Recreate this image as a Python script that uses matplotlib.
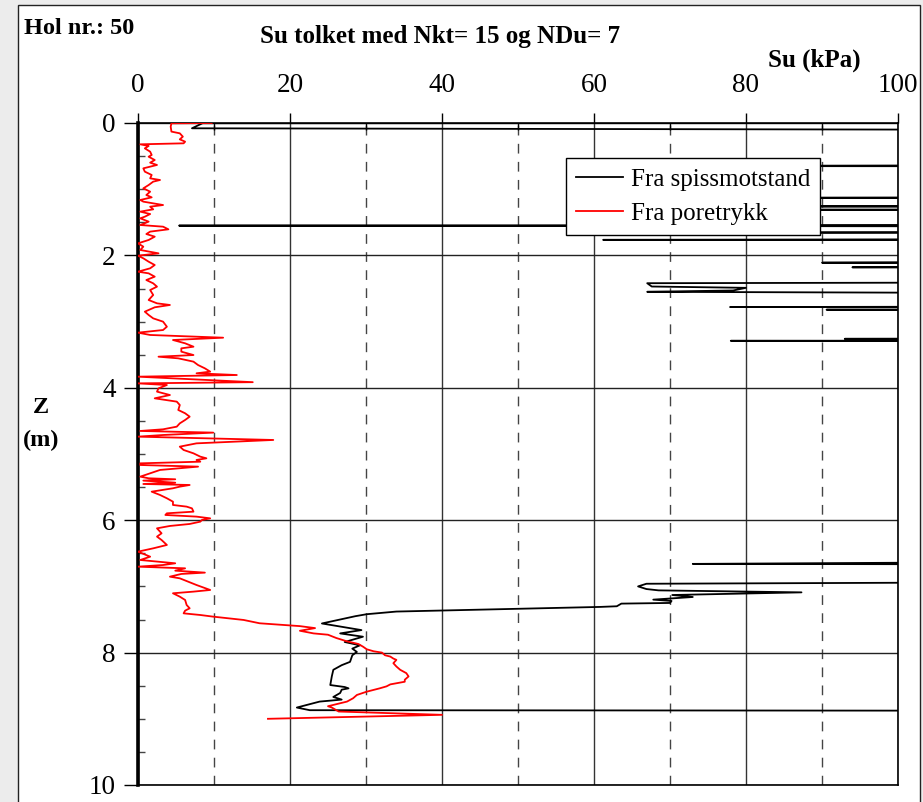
import matplotlib
matplotlib.use("Agg")
import matplotlib.pyplot as plt
from matplotlib.patches import Rectangle

plt.rcParams["font.family"] = ["Liberation Serif", "DejaVu Serif"]

OFF = 200.0  # strength beyond the 100 kPa axis limit

# Su from cone resistance (Nkt = 15): depth (m), Su (kPa)
depth_tip = [0.0, 0.003, 0.08, 0.12,
             0.62, 0.65, 0.66,
             1.11, 1.13, 1.14, 1.25, 1.26, 1.27, 1.30, 1.31, 1.32,
             1.53, 1.55, 1.57, 1.63, 1.655, 1.665, 1.74, 1.765, 1.775,
             2.07, 2.11, 2.115, 2.15, 2.18, 2.19,
             2.39, 2.42, 2.47, 2.49, 2.53, 2.55, 2.60,
             2.76, 2.78, 2.79, 2.82, 2.86,
             3.23, 3.26, 3.28, 3.29, 3.305,
             6.58, 6.66, 6.68,
             6.90, 6.96, 7.00, 7.04, 7.06, 7.09, 7.13, 7.16, 7.20, 7.22,
             7.25, 7.26, 7.30, 7.31, 7.38, 7.42, 7.45, 7.56, 7.66, 7.71,
             7.76, 7.84, 7.89, 7.94, 7.99, 8.04, 8.14, 8.19, 8.26, 8.36,
             8.49, 8.52, 8.54, 8.56, 8.61, 8.67, 8.71, 8.74, 8.83, 8.87,
             8.885, 9.0]
su_tip = [OFF, 8.5, 7.1, OFF,
          OFF, 65, OFF,
          OFF, 70, OFF, OFF, 75, OFF, OFF, 78, OFF,
          OFF, 5.4, OFF, OFF, 82.5, OFF, OFF, 61.2, OFF,
          OFF, 90, OFF, OFF, 94, OFF,
          OFF, 67, 67.6, 80, 78.3, 67, OFF,
          OFF, 77.9, OFF, 90.6, OFF,
          OFF, 93, OFF, 78, OFF,
          OFF, 73, OFF,
          OFF, 66.9, 65.8, 66.9, 68.5, 87.3, 70.3, 73, 67.8, 70.2,
          70, 63.6, 63, 60.8, 34, 30.1, 28.6, 24.2, 29.4, 26.6,
          29.6, 27.2, 29.2, 28.2, 28.8, 28.2, 27.9, 26.8, 25.7, 25.5,
          25.3, 27.2, 27.7, 26.8, 26.6, 25.7, 26.8, 23.9, 20.9, 22.6,
          OFF, OFF]

# Su from pore pressure (NDu = 7): depth (m), Su (kPa)
depth_pore = [0.0, 0.005, 0.055, 0.13, 0.156, 0.206, 0.247, 0.282, 0.307, 0.322,
              0.347, 0.383, 0.433, 0.483, 0.509, 0.559, 0.599, 0.634, 0.685, 0.735,
              0.785, 0.836, 0.861, 0.886, 0.937, 0.987, 1.037, 1.088, 1.123, 1.163,
              1.188, 1.239, 1.264, 1.304, 1.339, 1.375, 1.415, 1.440, 1.490, 1.541,
              1.566, 1.606, 1.641, 1.677, 1.717, 1.767, 1.818, 1.868, 1.918, 1.969,
              2.004, 2.044, 2.095, 2.145, 2.195, 2.246, 2.271, 2.321, 2.372, 2.422,
              2.472, 2.523, 2.598, 2.674, 2.724, 2.749, 2.784, 2.850, 2.900, 2.951,
              3.001, 3.077, 3.127, 3.167, 3.202, 3.243, 3.278, 3.328, 3.379, 3.404,
              3.454, 3.505, 3.530, 3.555, 3.605, 3.656, 3.706, 3.756, 3.781, 3.807,
              3.832, 3.915, 3.933, 3.958, 4.008, 4.058, 4.109, 4.159, 4.209, 4.260,
              4.335, 4.385, 4.436, 4.486, 4.537, 4.587, 4.627, 4.652, 4.677, 4.713,
              4.738, 4.788, 4.839, 4.889, 4.939, 4.990, 5.040, 5.065, 5.090, 5.116,
              5.141, 5.166, 5.191, 5.241, 5.292, 5.342, 5.367, 5.382, 5.402, 5.433,
              5.453, 5.468, 5.493, 5.518, 5.569, 5.619, 5.669, 5.720, 5.770, 5.795,
              5.821, 5.871, 5.896, 5.921, 5.946, 5.972, 5.997, 6.022, 6.057, 6.087,
              6.123, 6.173, 6.198, 6.248, 6.299, 6.374, 6.425, 6.475, 6.551, 6.601,
              6.651, 6.677, 6.702, 6.727, 6.762, 6.792, 6.812, 6.853, 6.878, 6.928,
              6.979, 7.054, 7.079, 7.104, 7.155, 7.205, 7.281, 7.331, 7.366, 7.407,
              7.432, 7.457, 7.507, 7.557, 7.60, 7.63, 7.67, 7.71, 7.73, 7.78,
              7.83, 7.87, 7.91, 7.95, 7.98, 8.00, 8.04, 8.06, 8.09, 8.11,
              8.16, 8.21, 8.26, 8.31, 8.36, 8.41, 8.44, 8.48, 8.51, 8.54,
              8.59, 8.64, 8.69, 8.74, 8.78, 8.81, 8.83, 8.87, 8.89, 8.94,
              9.00]
su_pore = [9.7, 4.4, 4.3, 4.4, 5.5, 5.9, 5.5, 6.2, 6.0, 0.3,
           1.4, 0.9, 1.6, 1.8, 1.4, 2.2, 1.6, 2.5, 0.7, 0.9,
           1.8, 1.6, 2.9, 2.0, 1.4, 0.7, 1.6, 1.1, 1.8, 0.3,
           0.7, 3.3, 1.6, 2.0, 0.3, 1.6, 0.9, 0.3, 1.4, 0.3,
           3.3, 4.0, 1.6, 1.1, 2.2, 1.4, 0.0, 0.7, 0.3, 2.7,
           0.0, 0.7, 1.4, 2.2, 1.6, 0.0, 1.4, 2.2, 1.1, 2.0,
           2.5, 1.6, 2.0, 1.4, 2.5, 4.2, 2.2, 0.9, 1.4, 2.0,
           3.3, 3.8, 3.3, 0.0, 1.6, 11.2, 4.6, 6.2, 7.3, 5.7,
           5.7, 7.3, 2.7, 5.3, 7.3, 7.9, 8.8, 9.5, 7.7, 13.0,
           0.0, 15.1, 0.0, 3.8, 2.7, 2.5, 4.2, 2.2, 5.1, 5.5,
           5.3, 6.2, 6.8, 6.2, 5.5, 5.1, 3.3, 0.3, 9.9, 3.3,
           0.0, 17.8, 7.7, 5.5, 6.0, 7.3, 8.2, 9.0, 7.7, 8.2,
           0.3, 0.3, 7.9, 2.9, 1.6, 0.3, 1.4, 4.9, 0.7, 4.9,
           0.7, 6.8, 5.5, 4.6, 1.8, 2.9, 3.8, 4.6, 4.6, 6.4,
           7.1, 7.3, 3.8, 3.6, 7.7, 9.5, 8.4, 8.2, 6.8, 4.2,
           2.5, 2.9, 3.1, 2.5, 3.1, 3.8, 2.0, 0.0, 1.6, 0.3,
           4.9, 3.3, 0.0, 6.2, 4.9, 8.8, 5.7, 4.2, 5.5, 6.6,
           7.7, 9.5, 7.3, 4.6, 5.5, 6.2, 6.4, 6.8, 6.2, 6.0,
           8.2, 9.9, 13.9, 16.0, 21.3, 23.3, 21.3, 23.1, 25.0, 26.1,
           27.5, 29.0, 29.6, 30.1, 31.0, 32.1, 32.5, 33.2, 33.6, 34.0,
           33.6, 34.0, 34.5, 35.3, 35.6, 35.1, 35.1, 33.2, 32.7, 31.8,
           30.1, 28.8, 28.3, 27.5, 26.1, 25.0, 25.5, 26.1, 26.4, 40.0,
           17.1]

x_major = [0, 20, 40, 60, 80, 100]
x_minor = [10, 30, 50, 70, 90]
y_major = [0, 2, 4, 6, 8, 10]
y_minor = [0.5, 1, 1.5, 2.5, 3, 3.5, 4.5, 5, 5.5, 6.5, 7, 7.5, 8.5, 9, 9.5]

W, H = 923, 802
fig = plt.figure(figsize=(W / 100, H / 100), dpi=100, facecolor="#ececec")
fig.patches.append(Rectangle((18 / W, -0.02), 902 / W, 1.02 - 5 / H,
                             transform=fig.transFigure, facecolor="white",
                             edgecolor="#222222", lw=1.0, zorder=-10))

ax = fig.add_axes([138 / W, 17 / H, 760 / W, 662 / H])
ax.set_zorder(2)
ax.set_facecolor("white")

ax.plot(su_tip, depth_tip, color="black", lw=1.3, label="Fra spissmotstand", zorder=3)
ax.plot(su_pore, depth_pore, color="red", lw=1.3, label="Fra poretrykk", zorder=4)

ax.set_xlim(0, 100)
ax.set_ylim(10, 0)
ax.xaxis.tick_top()
ax.set_xticks(x_major)
ax.set_xticks(x_minor, minor=True)
ax.set_yticks(y_major)
ax.set_yticks(y_minor, minor=True)
ax.tick_params(axis="x", which="major", direction="out", length=7, width=1,
               pad=11, labelsize=19.5, top=True, bottom=False)
ax.tick_params(axis="x", which="minor", direction="in", length=5, width=1,
               top=True, bottom=False)
ax.tick_params(axis="y", which="major", direction="out", length=10, width=1,
               pad=6, labelsize=19.5)
ax.tick_params(axis="y", which="minor", direction="in", length=5, width=1,
               color="#444444")

ax.xaxis.grid(True, which="major", color="#333333", lw=1.0, ls="-", zorder=1)
ax.xaxis.grid(True, which="minor", color="#444444", lw=1.0, ls=(0, (7, 6)), zorder=1)
ax.yaxis.grid(True, which="major", color="#222222", lw=1.0, ls="-", zorder=1)
ax.set_axisbelow(True)

for side in ("top", "right", "bottom"):
    ax.spines[side].set_linewidth(1.2)
ax.spines["left"].set_linewidth(2.6)

leg = ax.legend(loc="upper left", bbox_to_anchor=(0.563, 0.947), borderaxespad=0,
                fancybox=False, framealpha=1, edgecolor="black", fontsize=18,
                handlelength=1.9, handletextpad=0.3, labelspacing=0.47,
                borderpad=0.4)
leg.get_frame().set_linewidth(1.0)
leg.set_zorder(10)

fig.text(24 / W, 1 - 28 / H, "Hol nr.: 50", fontsize=17.5, fontweight="bold",
         ha="left", va="center")
fig.text(440 / W, 1 - 36 / H, "Su tolket med Nkt= 15 og NDu= 7", fontsize=18,
         fontweight="bold", ha="center", va="center")
fig.text(814 / W, 1 - 60 / H, "Su (kPa)", fontsize=18, fontweight="bold",
         ha="center", va="center")
fig.text(41 / W, 1 - 408 / H, "Z", fontsize=17.5, fontweight="bold",
         ha="center", va="center")
fig.text(41 / W, 1 - 440 / H, "(m)", fontsize=17.5, fontweight="bold",
         ha="center", va="center")

fig.savefig("out.png", dpi=100, facecolor=fig.get_facecolor())
